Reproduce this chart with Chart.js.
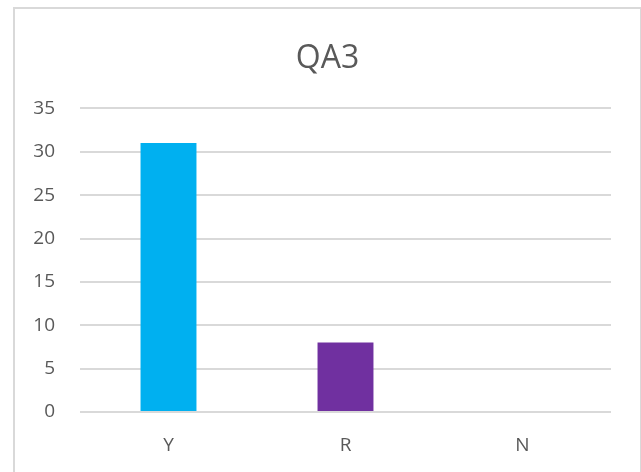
<!DOCTYPE html>
<html>
<head>
<meta charset="utf-8">
<script src="https://cdn.jsdelivr.net/npm/chart.js@4"></script>
<style>
  html, body { margin: 0; padding: 0; background: #fff; overflow: hidden; }
  #box {
    position: absolute;
    left: 13px;
    top: 7px;
    width: 625px;
    height: 470px;
    border: 2px solid #d9d9d9;
    background: #fff;
  }
  #wrap { position: absolute; left: 0; top: 0; width: 625px; height: 466px; }
</style>
</head>
<body>
<div id="box"><div id="wrap"><canvas id="chart"></canvas></div></div>
<script>
const categories = ["Y", "R", "N"];
const counts = [31, 8, 0];
const barColors = ["#00b0f0", "#7030a0", "#7f7f7f"];
const yTicks = [0, 5, 10, 15, 20, 25, 30, 35];

const chart = document.querySelector("#chart");

new Chart(chart, {
  type: "bar",
  data: {
    labels: categories,
    datasets: [
      {
        label: "QA3",
        data: counts,
        backgroundColor: barColors,
        borderWidth: 0,
        categoryPercentage: 1,
        barPercentage: 0.316,
      },
    ],
  },
  options: {
    responsive: true,
    maintainAspectRatio: false,
    animation: false,
    layout: { padding: { left: 0, right: 0, top: 0, bottom: 0 } },
    plugins: {
      legend: { display: false },
      tooltip: { enabled: false },
      title: {
        display: true,
        text: "QA3",
        color: "#595959",
        font: { family: "Open Sans", size: 32, weight: "normal" },
        padding: { top: 31, bottom: 30 },
      },
    },
    scales: {
      x: {
        grid: { display: false },
        border: { display: false },
        ticks: {
          color: "#595959",
          font: { family: "Open Sans", size: 19 },
          padding: 14,
        },
        afterFit: (s) => { s.height = 63; },
      },
      y: {
        min: 0,
        max: 35,
        afterBuildTicks: (s) => { s.ticks = yTicks.map((v) => ({ value: v })); },
        grid: { color: "#d9d9d9", lineWidth: 2, drawTicks: false },
        border: { display: false },
        ticks: {
          color: "#595959",
          font: { family: "Open Sans", size: 19 },
          padding: 25,
        },
        afterFit: (s) => { s.width = 65; },
      },
      y2: {
        position: "right",
        display: true,
        grid: { display: false },
        border: { display: false },
        ticks: { display: false },
        afterFit: (s) => { s.width = 29; },
      },
    },
  },
});
</script>
</body>
</html>
